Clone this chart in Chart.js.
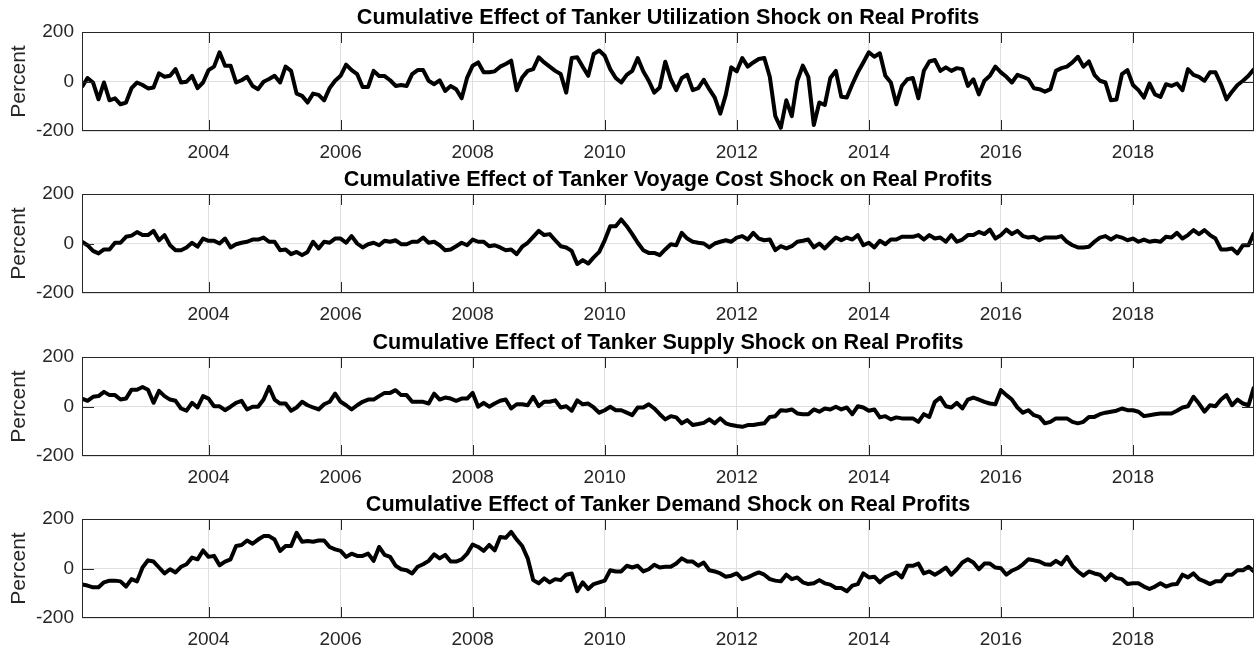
<!DOCTYPE html>
<html>
<head>
<meta charset="utf-8">
<script src="https://cdn.jsdelivr.net/npm/chart.js@4.4.0/dist/chart.umd.min.js"></script>
<style>
  body { margin: 0; background: #fff; width: 1258px; height: 653px; overflow: hidden; position: relative; }
  .panel { position: absolute; left: 0; width: 1258px; height: 163px; }
</style>
</head>
<body>
<div class="panel" style="top:0px"><canvas id="c1" width="1258" height="163"></canvas></div>
<div class="panel" style="top:162px"><canvas id="c2" width="1258" height="163"></canvas></div>
<div class="panel" style="top:325px"><canvas id="c3" width="1258" height="163"></canvas></div>
<div class="panel" style="top:487px"><canvas id="c4" width="1258" height="163"></canvas></div>
<script>
// monthly, Feb 2002 .. Nov 2019
const startYear = 2002;
const startMonth = 2;

const utilization = [
  -22, 14, -4, -72, -4, -76, -68, -92, -85, -27, -4, -14, -28, -24, 33, 19, 23, 50, -4, -1,
  23, -27, -4, 46, 60, 118, 64, 64, -4, 5, 19, -18, -31, -1, 10, 23, -4, 60, 43, -49,
  -58, -85, -49, -54, -76, -27, 3, 23, 68, 46, 30, -22, -22, 43, 22, 22, 5, -18, -14, -18,
  30, 46, 46, 3, -11, 5, -38, -18, -31, -68, 16, 64, 77, 37, 37, 41, 60, 71, 84, -35,
  16, 43, 50, 98, 77, 60, 43, 30, -45, 95, 98, 60, 23, 111, 125, 104, 50, 14, -4, 27,
  43, 95, 41, 3, -45, -24, 80, 9, -35, 14, 27, -35, -27, 7, -31, -65, -130, -54, 57, 41,
  95, 60, 77, 91, 95, 19, -140, -187, -76, -140, 3, 64, 19, -176, -85, -95, 14, 43, -62, -65,
  -11, 37, 77, 118, 100, 114, 23, -4, -92, -18, 9, 14, -68, 43, 81, 87, 43, 57, 43, 54,
  50, -18, 9, -52, 3, 23, 60, 37, 19, -4, 27, 19, 9, -27, -31, -41, -31, 43, 54, 60,
  77, 100, 60, 81, 27, 3, -4, -76, -73, 30, 46, -14, -35, -65, -8, -52, -62, -11, -18, -8,
  -35, 50, 27, 19, 3, 37, 37, -11, -72, -41, -14, 3, 23, 50
];

const voyageCost = [
  7, -7, -30, -40, -24, -24, 3, 3, 27, 32, 46, 34, 34, 51, 13, 34, -7, -27, -27, -16,
  3, -13, 20, 11, 11, 0, 20, -16, -3, 3, 7, 16, 16, 24, 7, 7, -27, -24, -43, -34,
  -47, -34, 7, -20, 7, 3, 20, 20, 3, 30, 0, -16, -3, 3, -7, 11, 7, 13, -3, -3,
  7, 7, 24, 3, 7, -7, -27, -24, -11, 3, -7, 16, 7, 7, -11, -7, -16, -27, -24, -43,
  -13, 3, 27, 51, 34, 38, 13, -11, -16, -30, -83, -67, -81, -56, -34, 13, 70, 70, 97, 70,
  38, 3, -27, -38, -38, -47, -24, -3, -7, 43, 20, 7, 3, 0, -16, 0, 7, 13, 7, 24,
  30, 16, 43, 20, 13, 16, -27, -11, -20, -11, 7, 11, 16, -16, 0, -20, 3, 24, 13, 24,
  16, 34, -7, 3, -16, 11, -3, 16, 16, 27, 27, 27, 34, 16, 34, 20, 24, 7, 34, 7,
  16, 34, 34, 47, 38, 56, 20, 34, 56, 38, 51, 30, 24, 27, 13, 24, 24, 24, 30, 7,
  -7, -16, -16, -13, 7, 24, 30, 16, 30, 24, 13, 20, 7, 16, 7, 11, 7, 27, 24, 43,
  20, 34, 54, 38, 54, 34, 20, -24, -24, -20, -40, -7, -7, 43
];

const supply = [
  32, 23, 39, 42, 59, 46, 46, 28, 32, 68, 68, 79, 68, 15, 63, 42, 28, 23, -8, -17,
  15, -4, 42, 32, 1, 1, -15, -1, 15, 23, -12, -1, -1, 28, 79, 28, 12, 12, -17, -4,
  19, 5, -4, -12, 9, 19, 52, 19, 5, -12, 5, 19, 28, 28, 42, 55, 55, 66, 46, 46,
  19, 19, 19, 12, 52, 28, 36, 32, 23, 32, 32, 55, -1, 15, -1, 12, 23, 28, -8, 9,
  9, 5, 39, 1, 19, 19, 25, -4, 1, -17, 25, 9, 12, -4, -25, -15, -1, -15, -15, -25,
  -35, -4, -4, 9, -8, -31, -52, -39, -44, -68, -55, -75, -71, -66, -52, -68, -48, -68, -75, -79,
  -82, -75, -75, -71, -68, -42, -39, -15, -17, -12, -28, -31, -31, -12, -21, -8, -12, -1, -12, -4,
  -31, 1, -4, -17, -12, -44, -39, -52, -44, -48, -48, -48, -62, -31, -42, 19, 36, 1, -4, 15,
  -8, 28, 36, 28, 19, 12, 9, 66, 46, 28, -4, -25, -15, -35, -42, -68, -62, -48, -48, -48,
  -62, -68, -62, -42, -42, -31, -25, -21, -17, -8, -15, -15, -21, -39, -35, -31, -28, -28, -28, -17,
  -4, 1, 39, 12, -21, 5, 1, 28, 46, 5, 28, 12, 5, 79
];

const demand = [
  -65, -69, -76, -76, -56, -49, -49, -52, -73, -43, -52, 4, 33, 28, 4, -20, -3, -16, 7, 17,
  44, 37, 73, 47, 51, 13, 28, 37, 91, 95, 113, 100, 117, 131, 131, 117, 71, 91, 91, 144,
  108, 111, 108, 113, 113, 87, 77, 71, 47, 60, 51, 51, 60, 31, 87, 55, 47, 11, -3, -7,
  -20, 7, 17, 31, 57, 41, 55, 28, 28, 37, 60, 97, 87, 71, 95, 73, 127, 124, 148, 117,
  91, 41, -47, -60, -40, -56, -43, -47, -25, -20, -92, -56, -83, -63, -56, -49, -7, -12, -12, 11,
  4, 11, -12, -3, 15, 4, 7, 7, 20, 41, 28, 28, 11, 24, -7, -12, -20, -33, -29, -20,
  -43, -36, -25, -16, -25, -43, -49, -52, -25, -43, -36, -56, -63, -60, -47, -60, -65, -79, -79, -92,
  -69, -63, -20, -36, -33, -56, -36, -25, -16, -36, 11, 11, 20, -20, -12, -25, -12, 4, -25, -3,
  24, 37, 24, -3, 20, 20, 4, 1, -25, -9, 1, 17, 37, 33, 28, 17, 15, 31, 17, 47,
  11, -12, -29, -12, -20, -25, -47, -23, -39, -43, -63, -60, -60, -73, -83, -73, -60, -73, -65, -63,
  -25, -36, -20, -43, -52, -63, -52, -52, -25, -25, -7, -7, 7, -12
];

const titles = [
  "Cumulative Effect of Tanker Utilization Shock on Real Profits",
  "Cumulative Effect of Tanker Voyage Cost Shock on Real Profits",
  "Cumulative Effect of Tanker Supply Shock on Real Profits",
  "Cumulative Effect of Tanker Demand Shock on Real Profits"
];
const yearTicks = [2004, 2006, 2008, 2010, 2012, 2014, 2016, 2018];
const yTicks = [-200, 0, 200];

const dates = utilization.map((_, i) => startYear + (startMonth - 1 + i) / 12);

const FONT = '"Liberation Sans", Arial, Helvetica, sans-serif';
const AXIS = '#262626';
const GRID = '#dfdfdf';

// box, inward ticks (matlab style) and the panel title
const framePlugin = {
  id: 'frame',
  afterDraw(chart, args, opts) {
    const { ctx, chartArea: a, scales } = chart;
    ctx.save();
    ctx.strokeStyle = AXIS;
    ctx.lineWidth = 1;
    ctx.strokeRect(Math.round(a.left) + 0.5, Math.round(a.top) + 0.5,
      Math.round(a.right - a.left) - 1, Math.round(a.bottom - a.top) - 1);
    ctx.beginPath();
    yearTicks.forEach(v => {
      const x = Math.round(scales.x.getPixelForValue(v)) + 0.5;
      ctx.moveTo(x, a.bottom); ctx.lineTo(x, a.bottom - 11);
      ctx.moveTo(x, a.top); ctx.lineTo(x, a.top + 11);
    });
    const y0 = Math.round(scales.y.getPixelForValue(0)) + 0.5;
    ctx.moveTo(a.left, y0); ctx.lineTo(a.left + 12, y0);
    ctx.moveTo(a.right, y0); ctx.lineTo(a.right - 12, y0);
    ctx.stroke();

    ctx.fillStyle = '#000';
    ctx.font = 'bold 21.6px ' + FONT;
    ctx.textAlign = 'center';
    ctx.textBaseline = 'alphabetic';
    ctx.fillText(opts.text, (a.left + a.right) / 2, a.top - 8.5);
    ctx.restore();
  }
};

function makePanel(id, values, title) {
  return new Chart(document.getElementById(id), {
    type: 'line',
    data: {
      datasets: [{
        data: values.map((v, i) => ({ x: dates[i], y: v })),
        borderColor: '#000',
        borderWidth: 4,
        borderJoinStyle: 'round',
        pointRadius: 0,
        tension: 0,
        fill: false
      }]
    },
    options: {
      responsive: false,
      animation: false,
      layout: { padding: { top: 32, right: 4, bottom: 0, left: 0 } },
      plugins: {
        legend: { display: false },
        tooltip: { enabled: false },
        frame: { text: title }
      },
      scales: {
        x: {
          type: 'linear',
          min: dates[0],
          max: dates[dates.length - 1],
          afterBuildTicks: s => { s.ticks = yearTicks.map(v => ({ value: v })); },
          afterFit: s => { s.height = 32; },
          border: { display: false },
          grid: { color: GRID, drawTicks: false },
          ticks: {
            color: AXIS, padding: 10, maxRotation: 0, autoSkip: false,
            font: { family: FONT, size: 19 },
            callback: v => String(v)
          }
        },
        y: {
          min: -200,
          max: 200,
          afterBuildTicks: s => { s.ticks = yTicks.map(v => ({ value: v })); },
          afterFit: s => { s.width = 82; },
          border: { display: false },
          grid: { color: GRID, drawTicks: false },
          ticks: { color: AXIS, padding: 8, font: { family: FONT, size: 19 } },
          title: {
            display: true, text: 'Percent', color: AXIS,
            font: { family: FONT, size: 21 }, padding: { top: 7, bottom: 0 }
          }
        }
      }
    },
    plugins: [framePlugin]
  });
}

makePanel('c1', utilization, titles[0]);
makePanel('c2', voyageCost, titles[1]);
makePanel('c3', supply, titles[2]);
makePanel('c4', demand, titles[3]);
</script>
</body>
</html>
